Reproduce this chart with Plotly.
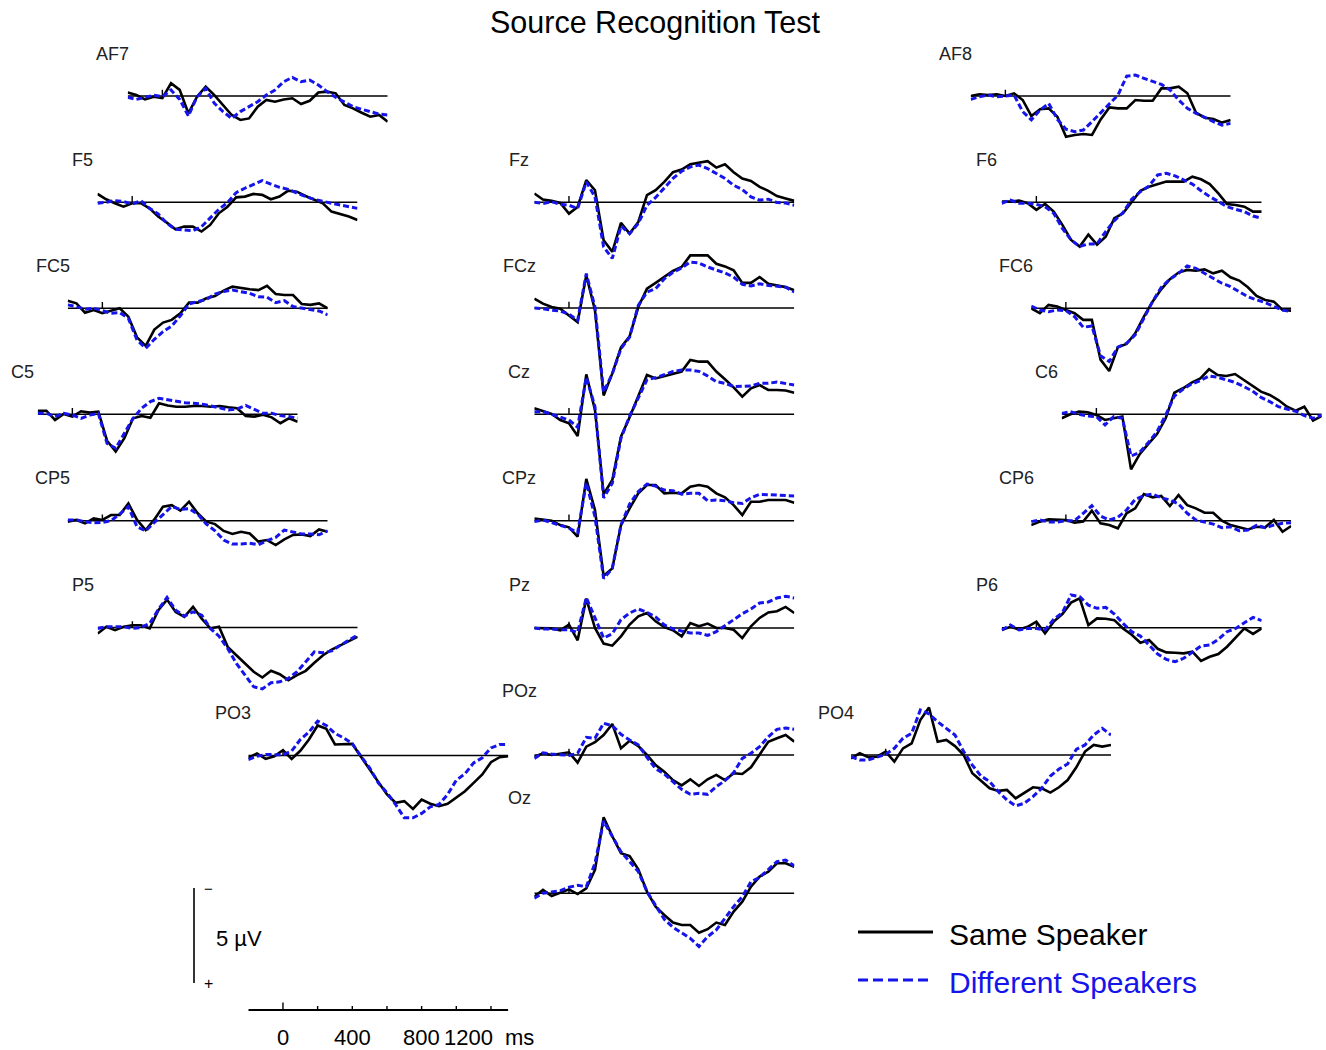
import plotly.graph_objects as go

W, H = 1326, 1050
PX_PER_UV = 19.0
PANEL_W = 260.0

# ---------------- data (µV, negative plotted upward) ----------------
times = [-200 + 50 * k for k in range(31)]

af7_same = [-0.18,-0.05,0.18,0.04,0.11,-0.67,-0.32,0.91,0.04,-0.49,-0.05,0.47,1.0,1.26,1.18,0.56,0.21,0.3,0.18,0.12,0.42,0.25,-0.18,-0.23,-0.14,0.47,0.65,0.88,1.09,1.0,1.35]
af7_diff = [0.07,0.18,0.07,-0.04,0.04,-0.32,0.18,1.05,0.04,-0.4,0.39,0.82,1.18,0.82,0.56,0.3,-0.05,-0.32,-0.75,-0.98,-0.75,-0.84,-0.58,-0.23,0.07,0.3,0.56,0.7,0.82,0.95,1.0]
af8_same = [0,-0.09,-0.05,-0.09,0,-0.14,0.21,1.05,0.7,0.65,1.09,2.14,2.05,2.0,2.05,1.23,0.6,0.65,0.65,0.21,0.25,0.25,-0.4,-0.4,-0.49,-0.14,0.88,1.14,1.21,1.4,1.26]
af8_diff = [0.18,0.04,-0.05,0.04,0,-0.05,0.82,1.26,0.74,0.39,1.23,1.75,1.88,1.79,1.35,0.88,0.42,-0.05,-1.05,-1.1,-0.93,-0.75,-0.61,-0.32,0.21,0.65,0.91,1.12,1.35,1.53,1.44]
f5_same = [-0.44,-0.16,0.05,0.23,0.05,0.05,0.32,0.75,1.07,1.42,1.28,1.28,1.54,1.19,0.58,0.23,-0.26,-0.3,-0.44,-0.39,-0.16,-0.3,-0.61,-0.56,-0.33,-0.16,0.05,0.49,0.61,0.75,0.93]
f5_diff = [0.05,0,-0.09,-0.04,0.09,-0.09,0.32,0.61,1.1,1.42,1.46,1.49,1.28,0.84,0.37,0.02,-0.51,-0.74,-0.96,-1.14,-0.96,-0.79,-0.68,-0.47,-0.3,-0.16,-0.04,0.05,0.14,0.23,0.32]
fz_same = [-0.46,-0.14,-0.07,0.04,0.6,0.25,-1.16,-0.63,2.0,2.61,1.09,1.65,1.04,-0.37,-0.63,-1.07,-1.58,-1.72,-2.0,-2.07,-2.16,-1.82,-2.0,-1.58,-1.25,-1.12,-0.81,-0.6,-0.32,-0.19,-0.07]
fz_diff = [0,0.07,-0.02,0.11,0.16,0.33,-1.07,-0.28,2.35,2.96,1.26,1.65,1.12,0.16,-0.25,-0.77,-1.25,-1.63,-1.86,-1.95,-1.77,-1.51,-1.25,-0.89,-0.67,-0.28,-0.11,-0.16,0.02,0.04,0.16]
f6_same = [-0.04,-0.04,-0.09,0.05,0.4,0.09,0.49,1.19,1.98,2.33,1.7,2.23,1.81,0.84,0.58,-0.04,-0.61,-0.82,-0.96,-1.09,-1.09,-1.09,-1.35,-1.21,-0.96,-0.47,0.09,0.14,0.23,0.49,0.49]
f6_diff = [0.05,-0.12,0.05,0.05,0.11,0.23,0.58,1.37,1.98,2.33,2.19,2.19,1.54,0.96,0.54,-0.16,-0.56,-0.86,-1.44,-1.53,-1.39,-1.18,-0.96,-0.61,-0.3,-0.04,0.23,0.37,0.49,0.72,0.84]
fc5_same = [-0.4,-0.26,0.23,0.09,0.26,0.12,0,0.44,1.53,1.98,1.12,0.75,0.61,0.26,-0.3,-0.3,-0.53,-0.65,-0.93,-1.14,-1.05,-1.0,-0.96,-1.18,-0.75,-0.7,-0.7,-0.23,-0.18,-0.26,0]
fc5_diff = [-0.18,-0.09,0.05,0,0.12,0.26,0.23,0.53,1.67,2.1,1.63,1.23,0.93,0.4,-0.23,-0.35,-0.47,-0.75,-0.88,-0.96,-0.88,-0.79,-0.61,-0.58,-0.3,-0.4,-0.09,0,0.05,0.14,0.35]
fcz_same = [-0.49,-0.23,-0.05,0.04,0.39,0.74,-1.72,0.12,4.6,3.44,2.07,1.49,-0.05,-1.02,-1.32,-1.63,-1.95,-2.16,-2.77,-2.77,-2.77,-2.33,-2.19,-1.98,-1.32,-1.32,-1.63,-1.28,-1.19,-1.1,-0.93]
fcz_diff = [0,0.04,0.12,0.16,0.33,0.65,-1.81,-0.05,4.42,3.46,2.14,1.53,-0.14,-0.84,-1.02,-1.54,-1.88,-2.11,-2.42,-2.37,-2.16,-2.02,-1.84,-1.63,-1.25,-1.16,-1.28,-1.19,-1.16,-1.1,-0.84]
fc6_same = [0,0.26,-0.18,-0.09,0.09,0.26,0.61,0.61,2.7,3.3,2.05,1.88,1.32,0.44,-0.35,-1.0,-1.53,-1.88,-2.02,-1.98,-2.05,-1.84,-1.98,-1.63,-1.46,-1.11,-0.65,-0.44,-0.35,0.09,0.12]
fc6_diff = [-0.12,0.09,0.18,0.09,0.12,0.44,1.0,0.93,2.5,2.8,2.05,1.84,1.4,0.53,-0.35,-1.1,-1.53,-1.84,-2.23,-2.1,-1.84,-1.58,-1.32,-1.14,-0.89,-0.61,-0.44,-0.3,-0.09,0.09,0.18]
c5_same = [-0.18,-0.19,0.3,-0.02,0.12,-0.16,-0.09,-0.14,1.39,1.96,1.26,0.21,0.09,0.18,-0.58,-0.46,-0.4,-0.4,-0.44,-0.44,-0.4,-0.44,-0.37,-0.32,0.09,0.12,0.02,0.16,0.47,0.21,0.39]
c5_diff = [-0.05,-0.05,0.12,-0.05,0.04,0.21,0.04,-0.05,1.53,1.79,1.0,0.21,-0.32,-0.67,-0.84,-0.75,-0.7,-0.61,-0.58,-0.53,-0.44,-0.32,-0.23,-0.28,-0.47,-0.26,-0.05,-0.05,0.07,0.12,0.21]
cz_same = [-0.32,-0.19,-0.02,0.3,0.47,1.14,-2.1,-0.23,4.2,3.46,1.18,0.16,-0.93,-2.07,-1.89,-2.02,-2.16,-2.25,-2.86,-2.77,-2.77,-2.25,-1.84,-1.42,-0.93,-1.37,-1.54,-1.28,-1.28,-1.25,-1.14]
cz_diff = [-0.14,-0.14,0,0.16,0.3,0.68,-1.95,-0.4,4.4,3.63,1.26,0.09,-0.84,-1.81,-1.93,-2.07,-2.25,-2.33,-2.33,-2.26,-2.02,-1.72,-1.63,-1.46,-1.46,-1.49,-1.63,-1.63,-1.7,-1.63,-1.54]
c6_same = [0.21,0,-0.14,-0.11,0.04,0.3,0.21,0.12,2.9,2.1,1.56,1.04,0.21,-1.14,-1.37,-1.67,-1.89,-2.37,-2.07,-2.02,-2.12,-1.81,-1.51,-1.19,-1.02,-0.75,-0.4,-0.19,-0.4,0.33,0.09]
c6_diff = [-0.05,-0.14,0,0.09,0.12,0.56,0.12,0.21,2.2,2.0,1.49,0.91,0.04,-0.96,-1.32,-1.6,-1.77,-2.02,-1.95,-1.81,-1.68,-1.46,-1.23,-0.89,-0.67,-0.4,-0.26,-0.16,0.07,0.21,0.04]
cp5_same = [0.05,-0.04,0.14,-0.12,-0.04,-0.3,-0.3,-0.91,-0.04,0.49,-0.07,-0.74,-0.82,-0.53,-1.0,-0.39,0.05,0.18,0.54,0.7,0.58,0.67,1.1,1.02,1.28,0.98,0.75,0.72,0.81,0.46,0.58]
cp5_diff = [-0.04,-0.04,0.05,0.11,0.09,0,-0.35,-0.74,0.32,0.54,0.09,-0.35,-0.74,-0.6,-0.63,-0.35,0.18,0.53,1.02,1.23,1.23,1.19,1.26,1.05,0.88,0.49,0.6,0.7,0.7,0.74,0.53]
cpz_same = [-0.12,-0.07,0,0.23,0.35,0.84,-2.2,-0.56,2.9,2.51,0.23,-0.65,-1.44,-1.88,-1.88,-1.44,-1.47,-1.44,-1.79,-1.88,-1.79,-1.44,-1.23,-0.82,-0.3,-1.0,-1.0,-1.09,-1.09,-1.09,-0.95]
cpz_diff = [0.05,-0.04,0.1,0.26,0.39,0.63,-2.0,-0.21,3.04,2.51,0.23,-0.88,-1.53,-1.93,-1.82,-1.61,-1.58,-1.4,-1.44,-1.44,-1.05,-1.09,-1.05,-0.95,-0.91,-1.21,-1.39,-1.37,-1.35,-1.35,-1.3]
cp6_same = [0.23,0.05,-0.07,-0.07,-0.04,0.11,0.05,-0.53,0.14,0.23,0.4,-0.39,-0.65,-1.4,-1.23,-1.3,-0.77,-1.35,-0.82,-0.65,-0.42,-0.42,0,0.23,0.35,0.46,0.32,0.35,-0.04,0.58,0.28]
cp6_diff = [0.05,-0.04,0.07,0.07,0,0,-0.39,-0.79,-0.25,-0.04,-0.18,-0.56,-1.12,-1.32,-1.4,-1.21,-1.09,-0.88,-0.39,-0.04,0.07,0.18,0.37,0.32,0.53,0.49,0.25,0.37,0.23,0.14,0.11]
p5_same = [0.32,-0.04,0.14,-0.04,-0.12,-0.12,0.05,-0.91,-1.47,-0.82,-0.56,-1.09,-0.47,0.05,-0.04,1.02,1.46,1.89,2.33,2.63,2.28,2.46,2.77,2.51,2.28,1.86,1.46,1.16,0.93,0.7,0.49]
p5_diff = [0.05,-0.04,-0.04,-0.04,0.05,0,-0.21,-0.95,-1.58,-0.91,-0.6,-0.82,-0.65,0.05,0.46,1.11,1.89,2.51,3.12,3.23,2.91,2.86,2.68,2.33,1.81,1.28,1.33,1.23,0.93,0.67,0.4]
pz_same = [0,0,0.02,0.12,-0.18,0.65,-1.55,0,0.82,0.93,0.44,-0.18,-0.61,-0.79,-0.35,-0.05,0.12,0.44,-0.26,-0.09,-0.23,0,0,0.09,0.53,-0.09,-0.53,-0.82,-0.88,-1.11,-0.79]
pz_diff = [0,0.05,0.05,0.09,0.09,0.23,-1.6,-0.53,0.53,0.3,-0.44,-0.79,-1.0,-0.82,-0.58,-0.16,0.04,0.16,0.26,0.26,0.39,0.19,-0.12,-0.4,-0.75,-1.0,-1.32,-1.37,-1.58,-1.67,-1.58]
p6_same = [0.12,-0.05,0.09,-0.05,-0.32,0.3,-0.32,-0.72,-1.32,-1.54,-0.14,-0.49,-0.47,-0.4,0.04,0.37,0.79,0.65,1.11,1.3,1.32,1.35,1.26,1.75,1.53,1.39,1.0,0.53,0.04,0.33,0.04]
p6_diff = [0.12,-0.14,0.12,0.04,0.04,0.12,-0.44,-0.79,-1.72,-1.63,-1.19,-1.02,-1.07,-0.72,-0.23,0.21,0.44,0.91,1.39,1.67,1.79,1.61,1.26,0.96,0.91,0.61,0.21,0.04,-0.26,-0.54,-0.37]
po3_same = [0.12,-0.11,0.18,0.04,-0.28,0.18,-0.25,-0.84,-1.58,-1.4,-0.58,-0.58,-0.61,0.07,0.74,1.44,2.05,2.49,2.4,2.81,2.32,2.54,2.67,2.54,2.23,1.88,1.44,1.0,0.35,0.09,0.04]
po3_diff = [0.21,0.04,-0.05,-0.05,-0.04,-0.23,-0.84,-1.23,-1.81,-1.58,-1.16,-0.93,-0.63,0.04,0.65,1.44,1.96,2.58,3.28,3.28,3.05,2.7,2.58,2.05,1.3,0.96,0.39,0.12,-0.4,-0.58,-0.58]
poz_same = [0.09,-0.09,0,-0.07,-0.14,0.4,-0.44,-0.67,-1.05,-1.63,-0.35,-0.75,-0.47,0,0.53,0.88,1.32,1.6,1.28,1.63,1.28,1.05,1.32,0.96,1.0,0.65,-0.05,-0.7,-0.88,-1.05,-0.7]
poz_diff = [0.18,-0.12,-0.05,0,0.02,-0.09,-0.93,-0.88,-1.67,-1.54,-1.09,-0.79,-0.53,0.12,0.72,1.0,1.39,1.81,2.07,2.02,2.07,1.67,1.35,0.93,0.18,-0.09,-0.44,-0.96,-1.35,-1.42,-1.35]
po4_same = [0.18,-0.09,0.12,0.09,-0.18,0.35,-0.35,-0.61,-1.84,-2.5,-0.7,-0.79,-0.47,0,0.96,1.35,1.75,1.89,1.84,2.28,1.98,1.7,1.75,1.98,1.7,1.32,0.65,-0.18,-0.53,-0.44,-0.53]
po4_diff = [0.09,0.26,0.26,0.09,-0.04,-0.35,-0.88,-1.14,-2.37,-2.16,-1.75,-1.4,-1.05,-0.18,0.53,1.11,1.4,1.93,2.37,2.68,2.54,2.19,1.75,1.11,0.74,0.47,-0.3,-0.53,-1.05,-1.4,-1.05]
oz_same = [0.18,-0.18,0.14,-0.04,-0.21,0.04,-0.26,-1.23,-4.0,-3.0,-2.11,-1.96,-1.26,-0.09,0.7,1.14,1.54,1.67,1.67,2.07,1.89,1.54,1.67,0.96,0.44,-0.35,-0.88,-1.14,-1.58,-1.58,-1.4]
oz_diff = [0.26,0,-0.07,-0.14,-0.32,-0.42,-0.35,-1.58,-3.8,-2.98,-2.19,-1.67,-1.14,-0.09,0.61,1.37,1.79,2.07,2.37,2.8,2.28,1.93,1.32,0.7,0.18,-0.61,-0.84,-1.23,-1.67,-1.75,-1.44]

scale_ticks_ms = [0, 200, 400, 600, 800, 1000, 1200]
scale_labels = ["0", "400", "800", "1200"]
scale_uv = 5

panels = [
    ("AF7", af7_same, af7_diff), ("AF8", af8_same, af8_diff),
    ("F5", f5_same, f5_diff), ("Fz", fz_same, fz_diff), ("F6", f6_same, f6_diff),
    ("FC5", fc5_same, fc5_diff), ("FCz", fcz_same, fcz_diff), ("FC6", fc6_same, fc6_diff),
    ("C5", c5_same, c5_diff), ("Cz", cz_same, cz_diff), ("C6", c6_same, c6_diff),
    ("CP5", cp5_same, cp5_diff), ("CPz", cpz_same, cpz_diff), ("CP6", cp6_same, cp6_diff),
    ("P5", p5_same, p5_diff), ("Pz", pz_same, pz_diff), ("P6", p6_same, p6_diff),
    ("PO3", po3_same, po3_diff), ("POz", poz_same, poz_diff), ("PO4", po4_same, po4_diff),
    ("Oz", oz_same, oz_diff),
]

# ---------------- layout positions (pixels) ----------------
# name: (left x of panel, baseline y, label y)
placement = {
    "AF7": (127.7, 96, 54), "AF8": (970.7, 96, 54),
    "F5": (97.5, 202.3, 160), "Fz": (534.3, 202.2, 160), "F6": (1001.7, 202.3, 160),
    "FC5": (67.7, 308.3, 266), "FCz": (534.3, 308, 266), "FC6": (1031.2, 308.3, 266),
    "C5": (37.7, 414.3, 372), "Cz": (534.3, 414.3, 372), "C6": (1061.7, 414.3, 372),
    "CP5": (67.7, 520.7, 478), "CPz": (534.3, 520.7, 478), "CP6": (1031.2, 520.7, 478),
    "P5": (97.7, 627.5, 585), "Pz": (534.3, 628, 585), "P6": (1001.7, 627.7, 585),
    "PO3": (248.3, 755.5, 713), "POz": (534.3, 755, 691), "PO4": (851, 755, 713),
    "Oz": (534.3, 893.3, 798),
}

FONT = "Arial, 'Liberation Sans', Helvetica, sans-serif"
BLUE = "rgb(20,20,235)"
DASH = "6px,3px"
LEGEND_DASH = "10px,5px"

fig = go.Figure()
axes = {}
annotations = []


def yfrac(py):
    return 1 - py / H


n = 0
for name, same, diff in panels:
    n += 1
    sfx = "" if n == 1 else str(n)
    x0, base, lab_y = placement[name]
    neg = min(5.5, (base - 1) / PX_PER_UV)
    pos = min(5.5, (H - base - 1) / PX_PER_UV)
    top = base - neg * PX_PER_UV
    bot = base + pos * PX_PER_UV
    axes["xaxis" + sfx] = dict(domain=[x0 / W, (x0 + PANEL_W) / W], range=[-200, 1300],
                               visible=False, anchor="y" + sfx, fixedrange=True)
    axes["yaxis" + sfx] = dict(domain=[yfrac(bot), yfrac(top)], range=[pos, -neg],
                               visible=False, anchor="x" + sfx, fixedrange=True)
    xa, ya = "x" + sfx, "y" + sfx
    fig.add_trace(go.Scatter(x=[times[0], times[-1]], y=[0, 0], xaxis=xa, yaxis=ya, mode="lines",
                             line=dict(color="black", width=1.6), hoverinfo="skip", showlegend=False))
    fig.add_trace(go.Scatter(x=[0, 0], y=[0, -0.33], xaxis=xa, yaxis=ya, mode="lines",
                             line=dict(color="black", width=1.4), hoverinfo="skip", showlegend=False))
    fig.add_trace(go.Scatter(x=times, y=same, xaxis=xa, yaxis=ya, mode="lines", name="Same Speaker",
                             line=dict(color="black", width=2.6), showlegend=False))
    fig.add_trace(go.Scatter(x=times, y=diff, xaxis=xa, yaxis=ya, mode="lines", name="Different Speakers",
                             line=dict(color=BLUE, width=3, dash=DASH), showlegend=False))
    annotations.append(dict(text=name, x=(x0 - 15) / W, y=yfrac(lab_y), xref="paper", yref="paper",
                            xanchor="center", yanchor="middle", showarrow=False,
                            font=dict(size=18, color="#222222", family=FONT)))

# ---------------- time scale bar ----------------
n += 1
ts = str(n)
tx0 = 248.3
axes["xaxis" + ts] = dict(domain=[tx0 / W, (tx0 + PANEL_W) / W], range=[-200, 1300], visible=False,
                          anchor="y" + ts, fixedrange=True)
axes["yaxis" + ts] = dict(domain=[yfrac(1030), yfrac(990)], range=[-1, 1], visible=False,
                          anchor="x" + ts, fixedrange=True)
fig.add_trace(go.Scatter(x=[-200, 1300], y=[0, 0], xaxis="x" + ts, yaxis="y" + ts, mode="lines",
                         line=dict(color="black", width=1.8), hoverinfo="skip", showlegend=False))
tx, ty = [], []
for t in scale_ticks_ms:
    tx += [t, t, None]
    ty += [0, 0.38 if t == 0 else 0.2, None]
fig.add_trace(go.Scatter(x=tx, y=ty, xaxis="x" + ts, yaxis="y" + ts, mode="lines",
                         line=dict(color="black", width=1.4), hoverinfo="skip", showlegend=False))
for lab in scale_labels:
    t = int(lab)
    annotations.append(dict(text=lab, x=t, y=yfrac(1037), xref="x" + ts, yref="paper",
                            xanchor="center", yanchor="middle", showarrow=False,
                            xshift=-22 if t == 1200 else 0,
                            font=dict(size=22, color="black", family=FONT)))
annotations.append(dict(text="ms", x=1300, y=yfrac(1037), xref="x" + ts, yref="paper",
                        xanchor="left", yanchor="middle", showarrow=False, xshift=-5,
                        font=dict(size=22, color="black", family=FONT)))

# ---------------- amplitude scale bar ----------------
n += 1
vs = str(n)
axes["xaxis" + vs] = dict(domain=[184 / W, 204 / W], range=[-1, 1], visible=False,
                          anchor="y" + vs, fixedrange=True)
axes["yaxis" + vs] = dict(domain=[yfrac(983), yfrac(888)], range=[scale_uv, 0], visible=False,
                          anchor="x" + vs, fixedrange=True)
fig.add_trace(go.Scatter(x=[0, 0], y=[0, scale_uv], xaxis="x" + vs, yaxis="y" + vs, mode="lines",
                         line=dict(color="black", width=1.6), hoverinfo="skip", showlegend=False))
annotations.append(dict(text="\u2212", x=208 / W, y=yfrac(888), xref="paper", yref="paper",
                        xanchor="center", yanchor="middle", showarrow=False,
                        font=dict(size=15, color="black", family=FONT)))
annotations.append(dict(text="+", x=208 / W, y=yfrac(983), xref="paper", yref="paper",
                        xanchor="center", yanchor="middle", showarrow=False,
                        font=dict(size=16, color="black", family=FONT)))
annotations.append(dict(text=f"{scale_uv} \u00b5V", x=239 / W, y=yfrac(938), xref="paper", yref="paper",
                        xanchor="center", yanchor="middle", showarrow=False,
                        font=dict(size=22, color="black", family=FONT)))

# ---------------- legend (drawn) ----------------
shapes = [
    dict(type="line", xref="paper", yref="paper", x0=858 / W, x1=933 / W, y0=yfrac(932), y1=yfrac(932),
         line=dict(color="black", width=3)),
    dict(type="line", xref="paper", yref="paper", x0=858 / W, x1=933 / W, y0=yfrac(980), y1=yfrac(980),
         line=dict(color=BLUE, width=3, dash=LEGEND_DASH)),
]
annotations.append(dict(text="Same Speaker", x=947 / W, y=yfrac(935), xref="paper", yref="paper",
                        xanchor="left", yanchor="middle", showarrow=False,
                        font=dict(size=30, color="black", family=FONT)))
annotations.append(dict(text="Different Speakers", x=947 / W, y=yfrac(982), xref="paper", yref="paper",
                        xanchor="left", yanchor="middle", showarrow=False,
                        font=dict(size=30, color=BLUE, family=FONT)))

# ---------------- title ----------------
annotations.append(dict(text="Source Recognition Test", x=655 / W, y=yfrac(23), xref="paper", yref="paper",
                        xanchor="center", yanchor="middle", showarrow=False,
                        font=dict(size=30.5, color="black", family=FONT)))

fig.update_layout(width=W, height=H, margin=dict(l=0, r=0, t=0, b=0),
                  paper_bgcolor="white", plot_bgcolor="rgba(0,0,0,0)", showlegend=False,
                  annotations=annotations, shapes=shapes, **axes)

fig.write_html("out.html", config={"displayModeBar": False},
               post_script="document.body.style.margin='0px';document.body.style.overflow='hidden';")
